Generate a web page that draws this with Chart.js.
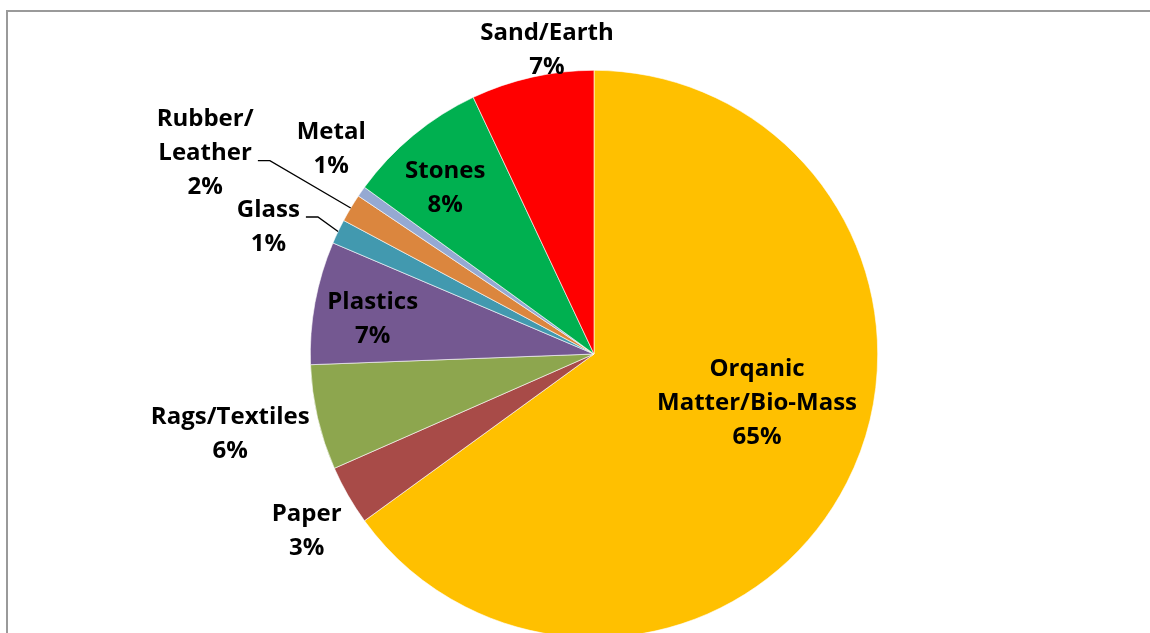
<!DOCTYPE html>
<html>
<head>
<meta charset="utf-8">
<title>Waste composition</title>
<script src="https://cdn.jsdelivr.net/npm/chart.js@4.4.1/dist/chart.umd.min.js"></script>
<style>
  html, body { margin: 0; padding: 0; background: #fff; overflow: hidden; }
  #frame {
    position: absolute; left: 6px; top: 10px; width: 1200px; height: 700px;
    border-left: 2px solid #9a9a9a; border-top: 2px solid #9a9a9a;
  }
  #wrap { position: absolute; left: 0; top: 0; width: 1150px; height: 638px; }
</style>
</head>
<body>
<div id="frame"></div>
<div id="wrap"><canvas id="wasteChart"></canvas></div>
<script>
// composition of solid waste, clockwise from 12 o'clock
const categoryLines = [
  ['Orqanic', 'Matter/Bio-Mass'],
  ['Paper'],
  ['Rags/Textiles'],
  ['Plastics'],
  ['Glass'],
  ['Rubber/', 'Leather'],
  ['Metal'],
  ['Stones'],
  ['Sand/Earth']
];
const shares = [65.0, 3.4, 6.0, 7.0, 1.4, 1.6, 0.6, 8.0, 7.0];
const sliceColors = ['#FFC000', '#A84B48', '#8DA64E', '#745891', '#4299AF', '#DB863E', '#95A9D2', '#00B050', '#FF0000'];

// label placement: [angle nudge from slice middle (deg), distance from centre as fraction of radius]
const labelSpots = [
  [-10.3, 0.60], [-1.8, 1.19], [0.5, 1.313], [-1.4, 0.79], [-4.25, 1.232],
  [-3.7, 1.542], [3.0, 1.174], [-2.3, 0.785], [3.8, 1.083]
];
// which text line a leader line hangs off (null = no leader)
const leaderFrom = [null, null, null, null, 0, 1, null, null, null];

const LINE_H = 34;
const FONT = 'bold 24px "Open Sans", Lato, sans-serif';

const pieLabels = {
  id: 'pieLabels',
  afterDatasetsDraw(chart) {
    const ctx = chart.ctx;
    const arcs = chart.getDatasetMeta(0).data;
    ctx.save();
    ctx.font = FONT;
    ctx.fillStyle = '#000';
    ctx.textAlign = 'center';
    ctx.textBaseline = 'middle';
    arcs.forEach((arc, i) => {
      const r = arc.outerRadius;
      const mid = (arc.startAngle + arc.endAngle) / 2;
      const a = mid + labelSpots[i][0] * Math.PI / 180;
      const cx = arc.x + Math.cos(a) * r * labelSpots[i][1];
      const cy = arc.y + Math.sin(a) * r * labelSpots[i][1];
      const lines = categoryLines[i].concat([Math.round(shares[i]) + '%']);
      const top = cy - (lines.length - 1) * LINE_H / 2;
      lines.forEach((t, k) => ctx.fillText(t, cx, top + k * LINE_H));

      if (leaderFrom[i] !== null) {
        const k = leaderFrom[i];
        const w = ctx.measureText(lines[k]).width;
        const sx = cx + w / 2 + 6;
        const sy = top + k * LINE_H + 7;
        const ex = arc.x + Math.cos(mid) * r;
        const ey = arc.y + Math.sin(mid) * r;
        ctx.beginPath();
        ctx.strokeStyle = '#000';
        ctx.lineWidth = 1.3;
        ctx.moveTo(sx, sy);
        ctx.lineTo(sx + 12, sy);
        ctx.lineTo(ex, ey);
        ctx.stroke();
      }
    });
    ctx.restore();
  }
};

new Chart(document.getElementById('wasteChart'), {
  type: 'pie',
  data: {
    labels: categoryLines.map(l => l.join(' ')),
    datasets: [{
      data: shares,
      backgroundColor: sliceColors,
      borderColor: '#ffffff',
      borderWidth: 0.6
    }]
  },
  options: {
    responsive: true,
    maintainAspectRatio: false,
    animation: false,
    layout: { padding: { top: 70, left: 38, right: 0, bottom: 0 } },
    plugins: {
      legend: { display: false },
      tooltip: { enabled: false }
    }
  },
  plugins: [pieLabels]
});
</script>
</body>
</html>
